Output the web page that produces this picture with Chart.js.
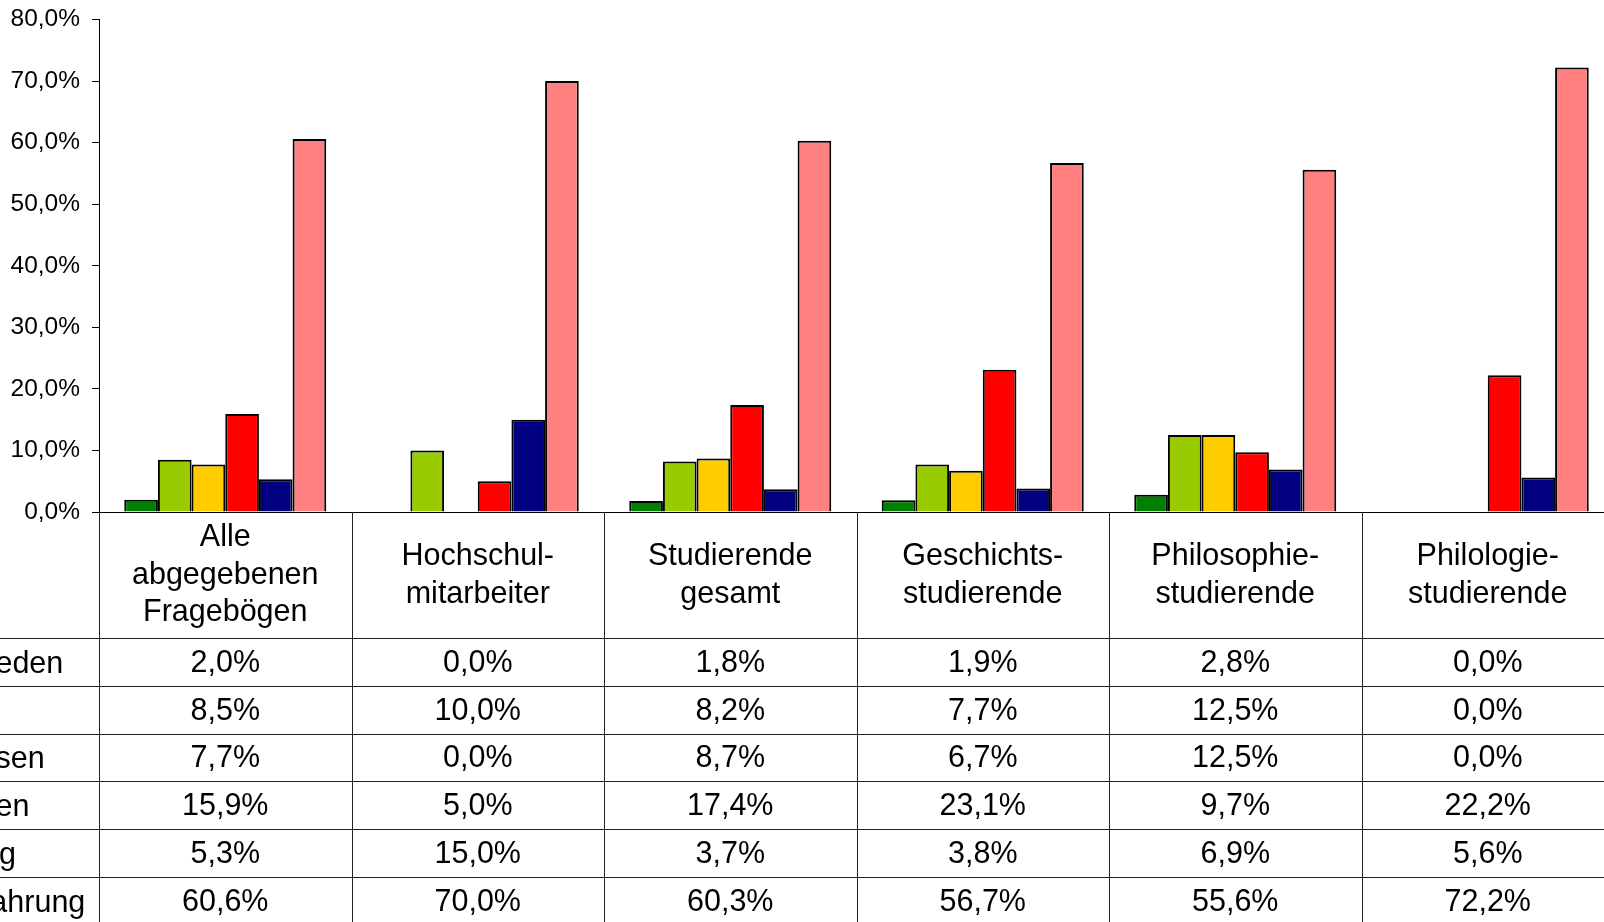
<!DOCTYPE html>
<html>
<head>
<meta charset="utf-8">
<script src="https://cdn.jsdelivr.net/npm/chart.js@4/dist/chart.umd.min.js"></script>
<style>
    body { margin: 0; background: #fff; overflow: hidden; }
    #wrap { width: 1604px; height: 922px; overflow: hidden; }
    #surveyChart { display: block; }
</style>
</head>
<body>
<div id="wrap">
    <canvas id="surveyChart" width="1620" height="922"></canvas>
</div>
<script>
const categoryLines = [
    ['Alle', 'abgegebenen', 'Fragebögen'],
    ['Hochschul-', 'mitarbeiter'],
    ['Studierende', 'gesamt'],
    ['Geschichts-', 'studierende'],
    ['Philosophie-', 'studierende'],
    ['Philologie-', 'studierende']
];

const seriesLabels = ['sehr zufrieden', 'zufrieden', 'angemessen', 'unzufrieden', 'Enthaltung', 'keine Erfahrung'];
const seriesColors = ['#008000', '#99CC00', '#FFCC00', '#FF0000', '#000080', '#FF8080'];

const sehrZufrieden = [2.0, 0.0, 1.8, 1.9, 2.8, 0.0];
const zufrieden = [8.5, 10.0, 8.2, 7.7, 12.5, 0.0];
const angemessen = [7.7, 0.0, 8.7, 6.7, 12.5, 0.0];
const unzufrieden = [15.9, 5.0, 17.4, 23.1, 9.7, 22.2];
const enthaltung = [5.3, 15.0, 3.7, 3.8, 6.9, 5.6];
const keineErfahrung = [60.6, 70.0, 60.3, 56.7, 55.6, 72.2];

const seriesValues = [sehrZufrieden, zufrieden, angemessen, unzufrieden, enthaltung, keineErfahrung];

const yMin = 0;
const yMax = 80;
const yStep = 10;

const FONT = '"Liberation Sans", Arial, Helvetica, sans-serif';

function fmtPercent(v) {
    return v.toFixed(1).replace('.', ',') + '%';
}

// Datentabelle unter dem Diagramm (wie in Excel)
const dataTablePlugin = {
    id: 'dataTable',
    afterDraw(chart) {
        const ctx = chart.ctx;
        const x = chart.scales.x;
        const top = chart.chartArea.bottom;
        const n = categoryLines.length;
        const catW = (x.right - x.left) / n;
        const headerH = 126.5;
        const rowH = 47.8;
        const lineH = 37.8;

        ctx.save();
        ctx.strokeStyle = '#222';
        ctx.lineWidth = 1;

        // vertikale Linien
        for (let i = 0; i <= n; i++) {
            const px = Math.round(x.left + i * catW) + 0.5;
            ctx.beginPath();
            ctx.moveTo(px, top);
            ctx.lineTo(px, chart.height);
            ctx.stroke();
        }
        // horizontale Linien
        for (let r = 0; r < seriesValues.length; r++) {
            const py = Math.floor(top + headerH + r * rowH) + 0.5;
            ctx.beginPath();
            ctx.moveTo(0, py);
            ctx.lineTo(chart.width, py);
            ctx.stroke();
        }

        ctx.fillStyle = '#000';
        ctx.font = '30.5px ' + FONT;
        ctx.textAlign = 'center';
        ctx.textBaseline = 'middle';

        // Kopfzeile
        for (let i = 0; i < n; i++) {
            const cx = x.left + (i + 0.5) * catW;
            const lines = categoryLines[i];
            const mid = top + headerH / 2;
            lines.forEach(function (txt, k) {
                const cy = mid + (k - (lines.length - 1) / 2) * lineH;
                ctx.fillText(txt, cx, cy);
            });
        }

        // Werte
        for (let r = 0; r < seriesValues.length; r++) {
            const cy = top + headerH + (r + 0.5) * rowH + 1;
            for (let i = 0; i < n; i++) {
                const cx = x.left + (i + 0.5) * catW;
                ctx.fillText(fmtPercent(seriesValues[r][i]), cx, cy);
            }
        }

        // Zeilenbeschriftung (links abgeschnitten)
        ctx.textAlign = 'left';
        for (let r = 0; r < seriesLabels.length; r++) {
            const cy = top + headerH + (r + 0.5) * rowH + 2;
            ctx.fillText(seriesLabels[r], -130, cy);
        }
        ctx.restore();
    }
};

function buildDatasets() {
    return seriesLabels.map(function (label, s) {
        return {
            label: label,
            // Nullwerte werden wie in Excel nicht gezeichnet
            data: seriesValues[s].map(v => (v === 0 ? null : v)),
            backgroundColor: seriesColors[s],
            borderColor: '#000',
            borderWidth: 2,
            categoryPercentage: 0.8,
            barPercentage: 1.0
        };
    });
}

function loadChart() {
    Chart.defaults.font.family = FONT;
    Chart.defaults.color = '#000';

    const ctx = document.getElementById('surveyChart').getContext('2d');
    new Chart(ctx, {
        type: 'bar',
        data: {
            labels: categoryLines.map(l => l.join(' ')),
            datasets: buildDatasets()
        },
        options: {
            responsive: false,
            animation: false,
            layout: {
                padding: { top: 19.5, right: 6, bottom: 410, left: 0 }
            },
            plugins: {
                legend: { display: false },
                tooltip: { enabled: false }
            },
            scales: {
                x: {
                    ticks: { display: false },
                    grid: { display: false, drawTicks: false },
                    border: { display: true, color: '#000', width: 1 },
                    afterFit: function (scale) { scale.height = 0; }
                },
                y: {
                    min: yMin,
                    max: yMax,
                    ticks: {
                        stepSize: yStep,
                        padding: 12,
                        font: { size: 24.5 },
                        color: '#000',
                        callback: v => fmtPercent(v)
                    },
                    grid: {
                        drawOnChartArea: false,
                        drawTicks: true,
                        tickLength: 7,
                        color: '#000'
                    },
                    border: { display: true, color: '#000', width: 1 },
                    afterFit: function (scale) {
                        scale.width = 99;
                        scale.paddingTop = 0;
                        scale.paddingBottom = 0;
                    }
                }
            }
        },
        plugins: [dataTablePlugin]
    });
}

document.addEventListener('DOMContentLoaded', loadChart);
</script>
</body>
</html>
